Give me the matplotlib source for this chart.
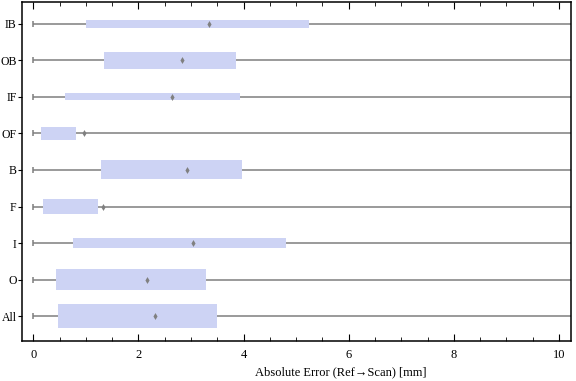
import matplotlib
matplotlib.use("Agg")
import matplotlib.pyplot as plt
from matplotlib.ticker import MultipleLocator

# categories bottom to top
groups = ["All", "O", "I", "F", "B", "OF", "IF", "OB", "IB"]
whisker_low = [0, 0, 0, 0, 0, 0, 0, 0, 0]
q1 = [0.47, 0.44, 0.76, 0.19, 1.29, 0.15, 0.61, 1.35, 1.01]
q3 = [3.49, 3.28, 4.80, 1.23, 3.98, 0.82, 3.93, 3.85, 5.24]
whisker_high = [14, 14, 14, 14, 14, 14, 14, 14, 14]
center = [2.32, 2.16, 3.04, 1.33, 2.92, 0.96, 2.64, 2.83, 3.34]
# relative box thickness (sample size)
thickness = [0.66, 0.57, 0.27, 0.41, 0.52, 0.36, 0.19, 0.46, 0.22]


def main():
    plt.rcParams["font.family"] = ["Liberation Serif", "DejaVu Serif"]
    fig = plt.figure(figsize=(5.76, 3.81), dpi=100)
    ax = fig.add_axes([0.0385, 0.105, 0.953, 0.89])

    pos = list(range(len(groups)))
    ax.hlines(pos, whisker_low, whisker_high, color="#7f7f7f", lw=1.1, zorder=1)
    ax.plot(whisker_low, pos, ls="none", marker="|", ms=5, mew=1.1,
            color="#7f7f7f", zorder=1)
    widths = [b - a for a, b in zip(q1, q3)]
    ax.barh(pos, widths, left=q1, height=thickness, color="#cdd3f4",
            edgecolor="none", zorder=2)
    ax.plot(center, pos, ls="none", marker="d", ms=3.5, color="#808080",
            mec="none", zorder=3)

    ax.set_xlim(-0.21, 10.23)
    ax.set_ylim(-0.68, 8.6)
    ax.set_yticks(pos)
    ax.set_yticklabels(groups)
    ax.xaxis.set_major_locator(MultipleLocator(2))
    ax.xaxis.set_minor_locator(MultipleLocator(0.5))
    ax.tick_params(axis="x", which="both", direction="in", top=True,
                   labelsize=9, pad=6)
    ax.tick_params(axis="x", which="major", length=5)
    ax.tick_params(axis="x", which="minor", length=3)
    ax.tick_params(axis="y", direction="out", length=3, labelsize=8.5, pad=1)
    for s in ax.spines.values():
        s.set_linewidth(1.1)
    ax.set_xlabel("Absolute Error (Ref\u2192Scan) [mm]", fontsize=9,
                  labelpad=4)
    ax.xaxis.set_label_coords(0.58, -0.075)
    fig.savefig("out.png", dpi=100)


if __name__ == "__main__":
    main()
